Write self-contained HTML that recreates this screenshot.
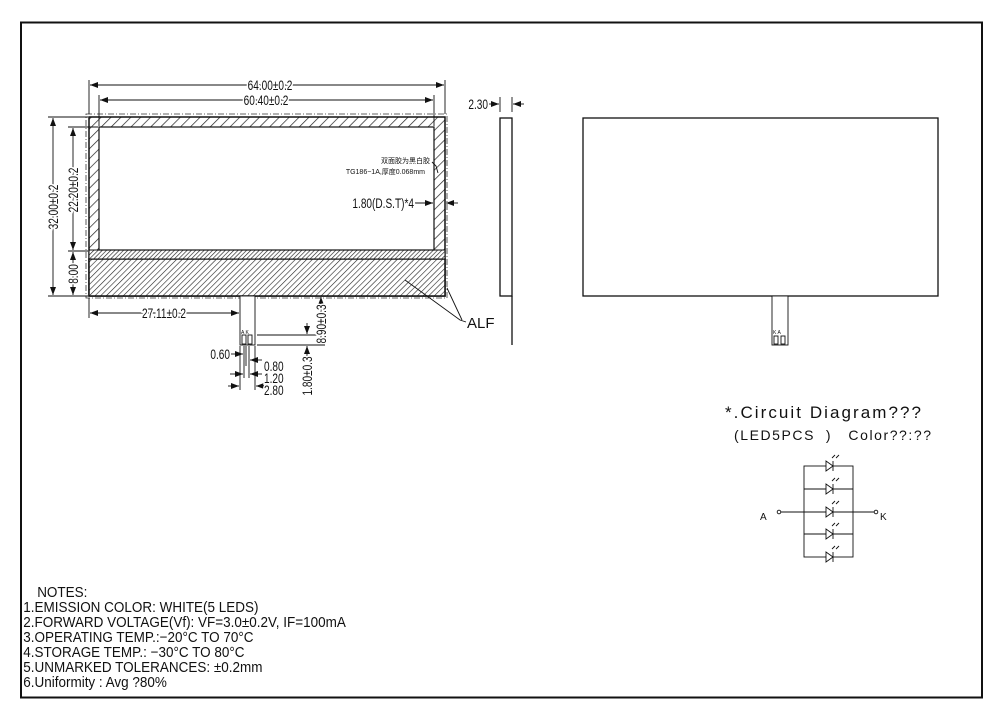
<!DOCTYPE html>
<html><head><meta charset="utf-8"><style>
html,body{margin:0;padding:0;background:#fff}
svg{display:block}
text{font-family:"Liberation Sans","Noto Sans CJK SC",sans-serif;fill:#111}
.d{font-size:14px;stroke:#fff;stroke-width:4px;paint-order:stroke}
</style></head><body>
<svg width="1000" height="719" viewBox="0 0 1000 719" xmlns="http://www.w3.org/2000/svg">
<defs>
<pattern id="h1" width="7" height="7" patternUnits="userSpaceOnUse" patternTransform="rotate(45)">
<rect width="7" height="7" fill="#fff"/><line x1="0" y1="0" x2="0" y2="7" stroke="#222" stroke-width="1.4"/></pattern>
<pattern id="h2" width="4" height="4" patternUnits="userSpaceOnUse" patternTransform="rotate(45)">
<rect width="4" height="4" fill="#fff"/><line x1="0" y1="0" x2="0" y2="4" stroke="#222" stroke-width="1.2"/></pattern>
<pattern id="h3" width="3" height="3" patternUnits="userSpaceOnUse" patternTransform="rotate(45)">
<rect width="3" height="3" fill="#fff"/><line x1="0" y1="0" x2="0" y2="3" stroke="#222" stroke-width="1.3"/></pattern>
<marker id="ar" markerWidth="8" markerHeight="6" refX="8" refY="3" orient="auto-start-reverse" markerUnits="userSpaceOnUse"><path d="M0,0 L8,3 L0,6 z" fill="#111"/></marker>
</defs>
<rect x="21" y="22.5" width="961" height="675" fill="none" stroke="#111" stroke-width="2"/>

<rect x="86" y="114" width="361" height="184" fill="none" stroke="#333" stroke-width="0.8" stroke-dasharray="6,2,1,2"/>
<rect x="89" y="117" width="356" height="179" fill="url(#h1)" stroke="#111" stroke-width="1.5"/>
<rect x="89" y="259" width="356" height="37" fill="url(#h2)" stroke="#111" stroke-width="1.5"/>
<rect x="89" y="250" width="356" height="9" fill="url(#h3)" stroke="#111" stroke-width="1"/>
<rect x="99" y="127" width="335" height="123" fill="#fff" stroke="#111" stroke-width="1.2"/>

<g stroke="#111" stroke-width="0.9" fill="none">
<line x1="89" y1="80" x2="89" y2="114"/><line x1="445" y1="80" x2="445" y2="114"/>
<line x1="90" y1="85" x2="444" y2="85" marker-start="url(#ar)" marker-end="url(#ar)"/>
<line x1="99" y1="95" x2="99" y2="126"/><line x1="434" y1="95" x2="434" y2="126"/>
<line x1="100" y1="100" x2="433" y2="100" marker-start="url(#ar)" marker-end="url(#ar)"/>
<line x1="48" y1="117" x2="88" y2="117"/><line x1="48" y1="296" x2="88" y2="296"/>
<line x1="53" y1="118" x2="53" y2="295" marker-start="url(#ar)" marker-end="url(#ar)"/>
<line x1="68" y1="127" x2="98" y2="127"/><line x1="68" y1="251" x2="88" y2="251"/>
<line x1="73" y1="128" x2="73" y2="250" marker-start="url(#ar)" marker-end="url(#ar)"/>
<line x1="73" y1="252" x2="73" y2="295" marker-start="url(#ar)" marker-end="url(#ar)"/>
<line x1="89" y1="298" x2="89" y2="318"/>
<line x1="90" y1="313" x2="239" y2="313" marker-start="url(#ar)" marker-end="url(#ar)"/>
<line x1="415" y1="203" x2="433" y2="203" marker-end="url(#ar)"/>
<line x1="458" y1="203" x2="446" y2="203" marker-end="url(#ar)"/>
<path d="M432,162 L436,166 L438,173"/>
<path d="M405,280 L460,320 L466,322"/>
<path d="M447,288 L462,320"/>
<rect x="240" y="296" width="15" height="49" fill="#fff"/>
<rect x="242" y="335" width="4" height="9"/><rect x="248" y="335" width="4" height="9"/>
<line x1="257" y1="335" x2="325" y2="335"/><line x1="257" y1="345" x2="325" y2="345"/>
<line x1="321" y1="297" x2="321" y2="344" marker-start="url(#ar)"/>
<line x1="307" y1="323" x2="307" y2="334" marker-end="url(#ar)"/>
<line x1="307" y1="358" x2="307" y2="346" marker-end="url(#ar)"/>
<line x1="240" y1="346" x2="240" y2="390"/><line x1="255" y1="346" x2="255" y2="390"/>
<line x1="244" y1="346" x2="244" y2="378"/><line x1="246" y1="346" x2="246" y2="366"/><line x1="249" y1="346" x2="249" y2="378"/>
<line x1="231" y1="354" x2="243" y2="354" marker-end="url(#ar)"/>
<line x1="262" y1="360" x2="250" y2="360" marker-end="url(#ar)"/>
<line x1="230" y1="374" x2="243" y2="374" marker-end="url(#ar)"/>
<line x1="262" y1="374" x2="250" y2="374" marker-end="url(#ar)"/>
<line x1="228" y1="386" x2="239" y2="386" marker-end="url(#ar)"/>
<line x1="266" y1="386" x2="256" y2="386" marker-end="url(#ar)"/>
<rect x="500" y="118" width="12" height="178" fill="#fff" stroke-width="1.3"/>
<line x1="512" y1="296" x2="512" y2="345" stroke-width="1.3"/>
<line x1="500" y1="97" x2="500" y2="112"/><line x1="512" y1="97" x2="512" y2="112"/>
<line x1="489" y1="104" x2="499" y2="104" marker-end="url(#ar)"/>
<line x1="524" y1="104" x2="513" y2="104" marker-end="url(#ar)"/>
<rect x="583" y="118" width="355" height="178" stroke-width="1.3"/>
<rect x="772" y="296" width="16" height="49" fill="#fff"/>
<rect x="774" y="336" width="4" height="8"/><rect x="781" y="336" width="4" height="8"/>
<rect x="804" y="466" width="49" height="91"/>
<line x1="781" y1="512" x2="874" y2="512"/>
<line x1="804" y1="489" x2="853" y2="489"/><line x1="804" y1="534" x2="853" y2="534"/>
<circle cx="779" cy="512" r="1.8"/><circle cx="876" cy="512" r="1.8"/>
</g>
<g stroke="#111" stroke-width="0.9" fill="#fff">
<g id="dd"><path d="M826,461 L826,471 L833,466 Z"/><line x1="833" y1="461" x2="833" y2="471"/><path d="M832,458 l3,-3 M836,458 l3,-3" fill="none"/></g>
<use href="#dd" y="23"/><use href="#dd" y="46"/><use href="#dd" y="68"/><use href="#dd" y="91"/>
</g>

<text class="d" text-anchor="middle" transform="translate(270,90) scale(0.72,1)">64.00±0.2</text>
<text class="d" text-anchor="middle" transform="translate(266,105) scale(0.72,1)">60.40±0.2</text>
<text class="d" text-anchor="middle" transform="translate(164,318) scale(0.72,1)">27.11±0.2</text>
<text class="d" text-anchor="end" transform="translate(414,208) scale(0.72,1)">1.80(D.S.T)*4</text>
<text class="d" text-anchor="end" transform="translate(488,109) scale(0.72,1)">2.30</text>
<text class="d" text-anchor="end" transform="translate(230,359) scale(0.72,1)">0.60</text>
<text class="d" transform="translate(264,371) scale(0.72,1)">0.80</text>
<text class="d" transform="translate(264,383) scale(0.72,1)">1.20</text>
<text class="d" transform="translate(264,395) scale(0.72,1)">2.80</text>
<text class="d" text-anchor="middle" transform="translate(58,207) rotate(-90) scale(0.72,1)">32.00±0.2</text>
<text class="d" text-anchor="middle" transform="translate(78,190) rotate(-90) scale(0.72,1)">22.20±0.2</text>
<text class="d" text-anchor="middle" transform="translate(78,274) rotate(-90) scale(0.72,1)">8.00</text>
<text class="d" text-anchor="middle" transform="translate(326,324) rotate(-90) scale(0.72,1)">8.90±0.3</text>
<text class="d" text-anchor="middle" transform="translate(312,376) rotate(-90) scale(0.72,1)">1.80±0.3</text>

<text x="430" y="163" font-size="7" text-anchor="end">双面胶为黑白胶</text>
<text x="425" y="174" font-size="7" text-anchor="end">TG186−1A,厚度0.068mm</text>
<text x="467" y="328" font-size="15" fill="#555">ALF</text>
<text x="241" y="334" font-size="5">A K</text>
<text x="773" y="334" font-size="5">K A</text>

<text x="725" y="418" font-size="17" textLength="196" lengthAdjust="spacing">*.Circuit Diagram???</text>
<text x="734" y="440" font-size="14" textLength="197" lengthAdjust="spacing" xml:space="preserve">(LED5PCS  )   Color??:??</text>
<text x="760" y="520" font-size="10">A</text>
<text x="880" y="520" font-size="10">K</text>

<g font-size="14.5" transform="scale(0.93,1)">
<text x="40" y="597">NOTES:</text>
<text x="25" y="612">1.EMISSION COLOR:  WHITE(5 LEDS)</text>
<text x="25" y="627">2.FORWARD VOLTAGE(Vf): VF=3.0±0.2V, IF=100mA</text>
<text x="25" y="642">3.OPERATING TEMP.:−20°C  TO 70°C</text>
<text x="25" y="657">4.STORAGE TEMP.:  −30°C  TO 80°C</text>
<text x="25" y="672">5.UNMARKED TOLERANCES: ±0.2mm</text>
<text x="25" y="687">6.Uniformity :  Avg ?80%</text>
</g>
</svg>
</body></html>
